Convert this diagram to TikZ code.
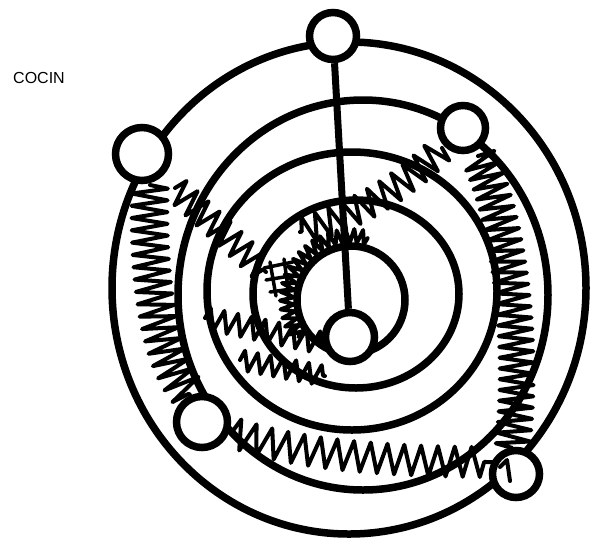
\documentclass[tikz,border=0pt]{standalone}
\usepackage{fontspec}
\setmainfont{Liberation Sans}
\usetikzlibrary{decorations.pathmorphing}
\begin{document}
\begin{tikzpicture}[x=1pt,y=-1pt,
  ring/.style={line width=7.5pt},
  dotc/.style={circle, draw, line width=7.5pt, fill=white, inner sep=0pt},
  zz/.style 2 args={line width=4pt, line join=round, line cap=round, decorate,
     decoration={zigzag, segment length=#1, amplitude=#2}},
  hatch/.style={line width=3.5pt, line cap=round},
  stem/.style={line width=7pt}]
\useasboundingbox (0,0) rectangle (594,542);

\node[anchor=base west, font=\fontsize{16}{20}\selectfont, inner sep=0pt] (title) at (13,83) {COCIN};

% zigzag bands
\draw[zz={12}{18}] (150,185) .. controls (148,240) and (150,350) .. (190,395);
\draw[zz={11}{17}] (478,156) .. controls (510,220) and (525,350) .. (512,450);
\draw[zz={17}{15}] (232,432) .. controls (300,458) and (420,462) .. (492,462);
\draw[zz={15}{14}] (442,148) .. controls (405,185) and (360,215) .. (300,232);
\draw[zz={8}{7}] ([shift={(-75:64)}]351,300) arc[start angle=-75, end angle=-215, radius=64];
\draw[zz={15}{13}] (175,188) -- (266,272);
\draw[zz={14}{11}] (205,318) -- (322,343);
\draw[zz={13}{10}] (240,360) -- (325,376);
% small hatch
\draw[hatch] (264,268) -- (293,262) (266,280) -- (296,275) (270,292) -- (299,288)
             (270,262) -- (276,296) (284,259) -- (289,295);

% rings
\draw[ring] (349,288) ellipse [x radius=237, y radius=246];
\draw[ring] (363,295) ellipse [x radius=185, y radius=195];
\draw[ring] (352,291) ellipse [x radius=145, y radius=139];
\draw[ring] (356,294) ellipse [x radius=103, y radius=94];
\draw[ring] (351,300) circle [radius=54];

% small circles
\node[dotc, minimum size=47pt] (stop) at (333,36) {};
\node[dotc, minimum size=53pt] (stl) at (142,154) {};
\node[dotc, minimum size=45pt] (str) at (463,128) {};
\node[dotc, minimum size=51pt] (sbl) at (202,422) {};
\node[dotc, minimum size=47pt] (sbr) at (516,474) {};
\node[dotc, minimum size=49pt] (scen) at (350,337) {};

% stem
\draw[stem] (stop) -- (scen);

% mark in bottom-right circle
\draw[line width=4pt, line cap=round, line join=round] (500,467) -- (507,460) -- (510,481);
\end{tikzpicture}
\end{document}
